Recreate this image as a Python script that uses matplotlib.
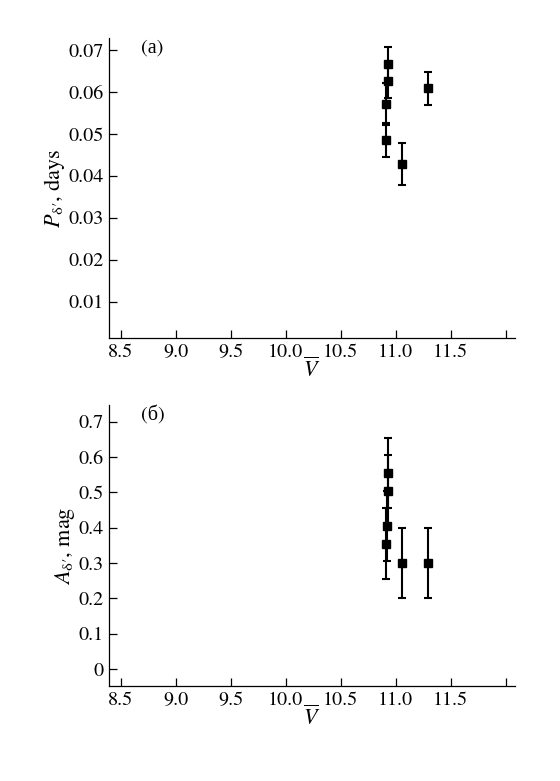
"""Period and amplitude of delta' versus mean V magnitude (two panels)."""

import matplotlib

matplotlib.use("Agg")
import matplotlib.pyplot as plt

plt.rcParams["font.family"] = ["TeX Gyre Termes", "Liberation Serif", "DejaVu Serif"]
plt.rcParams["mathtext.fontset"] = "custom"
plt.rcParams["mathtext.rm"] = "TeX Gyre Termes"
plt.rcParams["mathtext.it"] = "TeX Gyre Termes:italic"
plt.rcParams["mathtext.default"] = "it"

# panel (a): period
v_period = [10.93, 10.93, 10.91, 10.91, 11.06, 11.29]
period = [0.0668, 0.0626, 0.0571, 0.0486, 0.0429, 0.0609]
period_err = [0.0040, 0.0040, 0.0050, 0.0040, 0.0050, 0.0040]

# panel (b): amplitude
v_amp = [10.93, 10.93, 10.92, 10.915, 11.06, 11.29]
amplitude = [0.555, 0.505, 0.405, 0.355, 0.30, 0.30]
amplitude_err = [0.10, 0.10, 0.10, 0.10, 0.10, 0.10]

x_ticks = [8.5, 9.0, 9.5, 10.0, 10.5, 11.0, 11.5, 12.0]
x_tick_labels = ["8.5", "9.0", "9.5", "10.0", "10.5", "11.0", "11.5", ""]
period_ticks = [0.01, 0.02, 0.03, 0.04, 0.05, 0.06, 0.07]
period_tick_labels = ["0.01", "0.02", "0.03", "0.04", "0.05", "0.06", "0.07"]
amp_ticks = [0.0, 0.1, 0.2, 0.3, 0.4, 0.5, 0.6, 0.7]
amp_tick_labels = ["0", "0.1", "0.2", "0.3", "0.4", "0.5", "0.6", "0.7"]


def style_axis(axis):
    for side in ("top", "right"):
        axis.spines[side].set_visible(False)
    for side in ("left", "bottom"):
        axis.spines[side].set_linewidth(0.9)
    axis.tick_params(direction="in", length=6, width=0.9, labelsize=14.5, pad=4)
    axis.set_xlim(8.395, 12.085)
    axis.set_xticks(x_ticks)
    axis.set_xticklabels(x_tick_labels)
    axis.set_xlabel(r"$\overline{V}$", fontsize=16, labelpad=-2)


figure = plt.figure(figsize=(5.6, 7.81), dpi=100)

top = figure.add_axes([0.1946, 0.5672, 0.725, 0.3841])
top.errorbar(v_period, period, yerr=period_err, fmt="s", color="black",
             markersize=5.8, elinewidth=1.5, capsize=3, capthick=1.5)
style_axis(top)
top.set_ylim(0.0013, 0.0729)
top.set_yticks(period_ticks)
top.set_yticklabels(period_tick_labels)
top.set_ylabel(r"$P_{\mathrm{δ′}}$, days", fontsize=16, labelpad=1)
top.text(0.08, 0.995, "(а)", transform=top.transAxes, fontsize=14.5,
         ha="left", va="top")

bottom = figure.add_axes([0.1946, 0.1216, 0.725, 0.3598])
bottom.errorbar(v_amp, amplitude, yerr=amplitude_err, fmt="s", color="black",
                markersize=5.8, elinewidth=1.5, capsize=3, capthick=1.5)
style_axis(bottom)
bottom.set_ylim(-0.048, 0.747)
bottom.set_yticks(amp_ticks)
bottom.set_yticklabels(amp_tick_labels)
bottom.set_ylabel(r"$A_{\mathrm{δ′}}$, mag", fontsize=16, labelpad=1)
bottom.text(0.08, 1.0, "(б)", transform=bottom.transAxes, fontsize=14.5,
            ha="left", va="top")

figure.savefig("out.png", dpi=100)
plt.close(figure)
